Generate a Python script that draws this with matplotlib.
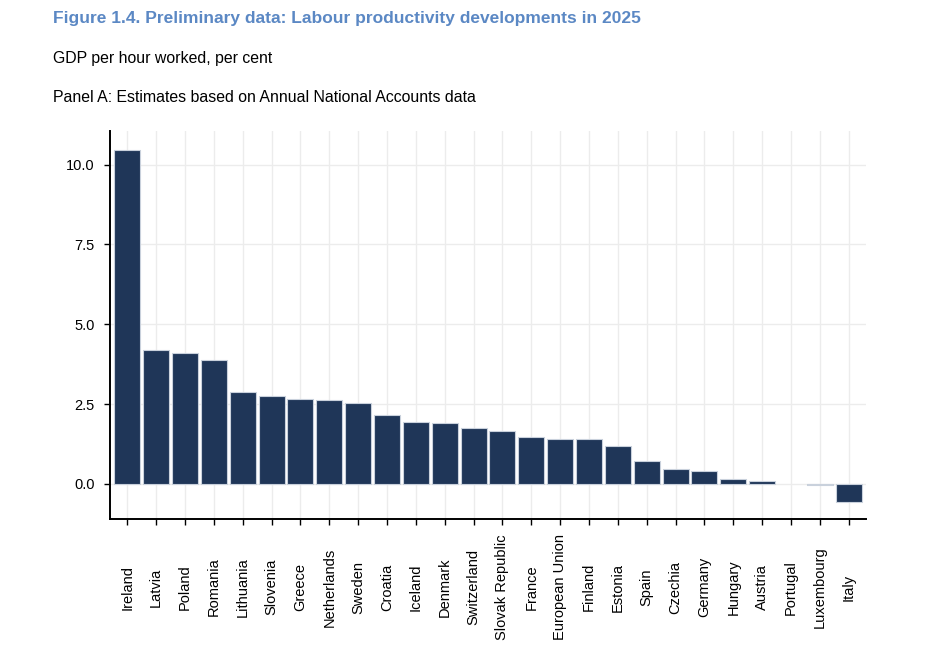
import matplotlib
matplotlib.use("Agg")
import matplotlib.pyplot as plt
import numpy as np

countries = ["Ireland", "Latvia", "Poland", "Romania", "Lithuania", "Slovenia",
             "Greece", "Netherlands", "Sweden", "Croatia", "Iceland", "Denmark",
             "Switzerland", "Slovak Republic", "France", "European Union",
             "Finland", "Estonia", "Spain", "Czechia", "Germany", "Hungary",
             "Austria", "Portugal", "Luxembourg", "Italy"]
# Portugal shows no visible bar in the source
growth = [10.47, 4.19, 4.09, 3.88, 2.87, 2.74,
          2.66, 2.62, 2.54, 2.17, 1.93, 1.92,
          1.76, 1.65, 1.48, 1.40,
          1.40, 1.20, 0.71, 0.46, 0.41, 0.15,
          0.09, float('nan'), -0.03, -0.56]
yticks = [0.0, 2.5, 5.0, 7.5, 10.0]

plt.rcParams['font.family'] = ['Liberation Sans', 'DejaVu Sans']

fig = plt.figure(figsize=(9.48, 6.59), dpi=100)
ax = fig.add_axes([0.116, 0.2124, 0.7975, 0.5886])

x = np.arange(len(countries))
ax.bar(x, growth, width=0.9, color='#1f3658', edgecolor='#c9d1dc',
       linewidth=0.8, zorder=3)

ax.set_xlim(-0.6, len(countries) - 0.4)
ax.set_ylim(-1.1, 11.05)
ax.set_yticks(yticks)
ax.set_yticklabels([f"{v:.1f}" for v in yticks])
ax.set_xticks(x)
ax.set_xticklabels(countries, rotation=90, va='center', ha='center')

ax.grid(True, color='#ececec', linewidth=1.0, zorder=0)
ax.set_axisbelow(True)

for s in ['top', 'right']:
    ax.spines[s].set_visible(False)
ax.spines['left'].set_linewidth(1.4)
ax.spines['bottom'].set_linewidth(1.4)
ax.tick_params(axis='y', length=4, width=1, pad=7, labelsize=10.5)
ax.tick_params(axis='x', length=4, width=1, pad=45, labelsize=10.5)

fig.text(0.056, 0.972, "Figure 1.4. Preliminary data: Labour productivity developments in 2025",
         fontsize=12.5, fontweight='bold', color='#5b88c4', va='center', ha='left')
fig.text(0.056, 0.911, "GDP per hour worked, per cent",
         fontsize=11.4, color='black', va='center', ha='left')
fig.text(0.056, 0.852, "Panel A: Estimates based on Annual National Accounts data",
         fontsize=11.4, color='black', va='center', ha='left')

fig.savefig("out.png", dpi=100)
